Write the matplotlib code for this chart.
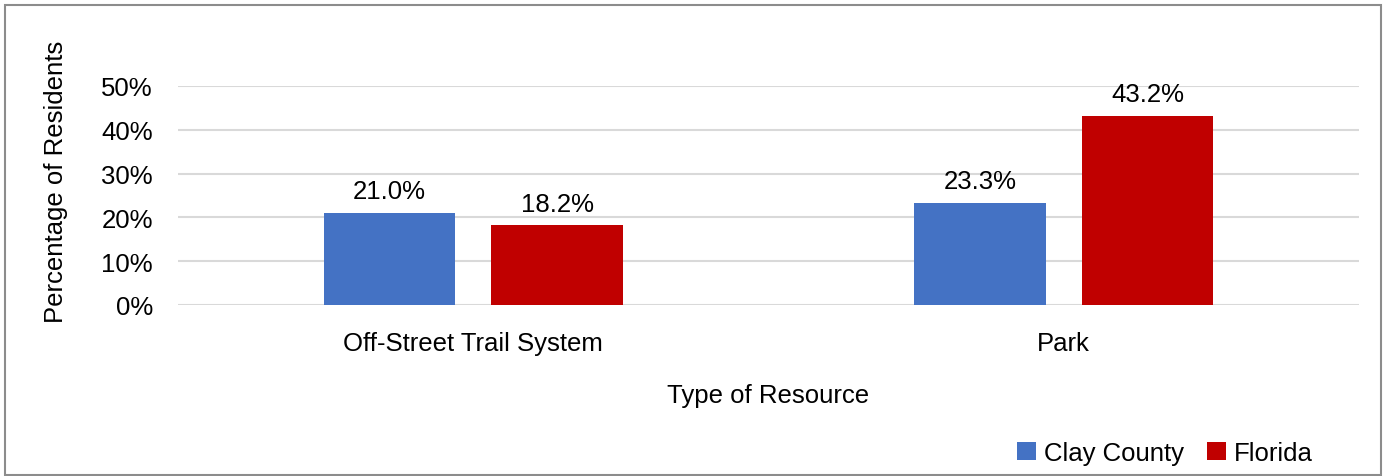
import matplotlib
matplotlib.use("Agg")
import matplotlib.pyplot as plt
from matplotlib.patches import Rectangle
import numpy as np

categories = ["Off-Street Trail System", "Park"]
series_names = ["Clay County", "Florida"]
clay_county = [21.0, 23.3]
florida = [18.2, 43.2]
y_ticks = [0, 10, 20, 30, 40, 50]
colors = ["#4472C4", "#C00000"]

plt.rcParams['font.family'] = ['Liberation Sans', 'DejaVu Sans']
FS = 18.5

W, H = 1391, 477
fig = plt.figure(figsize=(W / 100, H / 100), dpi=100)

# outer border
fig.patches.append(Rectangle((5 / W, 1 - 476 / H), (1381 - 5) / W, (476 - 6) / H,
                             transform=fig.transFigure, fill=False,
                             edgecolor="#8c8c8c", linewidth=1.5))

x0, x1 = 178, 1359
y_top, y_bot = 87, 306
ax = fig.add_axes([x0 / W, 1 - y_bot / H, (x1 - x0) / W, (y_bot - y_top) / H])

x = np.arange(len(categories))
bw = 0.223
off = 0.142
for vals, name, c, o in zip([clay_county, florida], series_names, colors, [-off, off]):
    bars = ax.bar(x + o, vals, width=bw, color=c, label=name, zorder=3)
    for b, v in zip(bars, vals):
        ax.annotate(f"{v:.1f}%", (b.get_x() + b.get_width() / 2, v),
                    xytext=(0, 7), textcoords="offset points",
                    ha="center", va="bottom", fontsize=FS, color="#000000")

ax.set_xlim(-0.5, 1.5)
ax.set_ylim(0, 50)
ax.set_yticks(y_ticks)
ax.set_yticklabels([f"{t}%" for t in y_ticks], fontsize=FS)
ax.set_xticks(x)
ax.set_xticklabels(categories, fontsize=FS)
ax.tick_params(axis="both", length=0)
ax.tick_params(axis="y", pad=18)
ax.tick_params(axis="x", pad=19)
ax.grid(axis="y", color="#d9d9d9", linewidth=1.5, zorder=0)
for s in ax.spines.values():
    s.set_visible(False)

ax.set_xlabel("Type of Resource", fontsize=FS, labelpad=20)
ax.set_ylabel("Percentage of Residents", fontsize=FS)
ax.yaxis.set_label_coords((68 - x0) / (x1 - x0), (y_bot - 182) / (y_bot - y_top))

ax.legend(loc="center right", bbox_to_anchor=(1313 / W, 1 - 454 / H),
          bbox_transform=fig.transFigure, ncol=2, frameon=False, fontsize=FS,
          borderaxespad=0, borderpad=0,
          handlelength=0.75, handleheight=0.75, handletextpad=0.3, columnspacing=0.9)

fig.savefig("out.png", dpi=100)
